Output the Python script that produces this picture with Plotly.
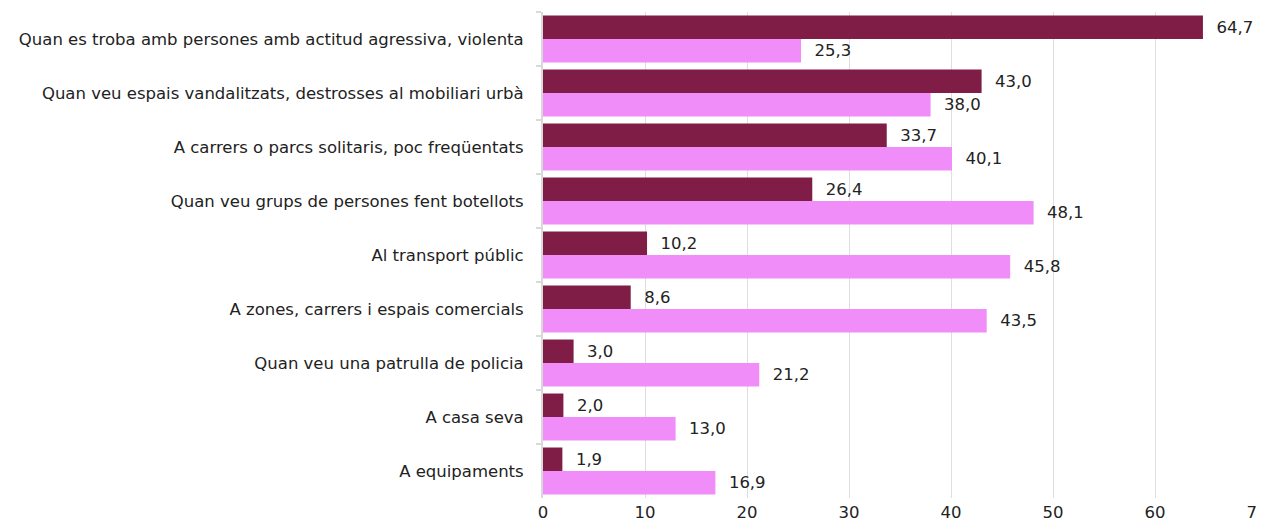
import plotly.graph_objects as go

categories = [
    "Quan es troba amb persones amb actitud agressiva, violenta",
    "Quan veu espais vandalitzats, destrosses al mobiliari urbà",
    "A carrers o parcs solitaris, poc freqüentats",
    "Quan veu grups de persones fent botellots",
    "Al transport públic",
    "A zones, carrers i espais comercials",
    "Quan veu una patrulla de policia",
    "A casa seva",
    "A equipaments",
]
serie_1 = [64.7, 43.0, 33.7, 26.4, 10.2, 8.6, 3.0, 2.0, 1.9]
serie_2 = [25.3, 38.0, 40.1, 48.1, 45.8, 43.5, 21.2, 13.0, 16.9]
x_ticks = [0, 10, 20, 30, 40, 50, 60, 70]

FONT = "DejaVu Sans"
FS = 16.5
fig = go.Figure()
for vals, color, name in [(serie_1, "#801D47", "Sèrie 1"), (serie_2, "#F18DF8", "Sèrie 2")]:
    fig.add_trace(go.Bar(
        y=categories, x=vals, orientation="h", name=name,
        marker=dict(color=color, line=dict(width=0)),
        texttemplate="  %{x:.1f}", textposition="outside",
        textfont=dict(family=FONT, size=FS, color="#222222"),
        cliponaxis=False,
    ))

fig.update_layout(
    width=1265, height=524,
    margin=dict(l=535, r=16, t=4, b=34, autoexpand=False),
    paper_bgcolor="white", plot_bgcolor="white",
    barmode="group", bargap=0.13, bargroupgap=0,
    showlegend=False,
    separators=",.",
    font=dict(family=FONT, size=FS, color="#222222"),
    xaxis=dict(range=[0, 70], tickvals=x_ticks, showgrid=True, gridcolor="#dedede",
               gridwidth=1, zeroline=False, showline=False, ticks="",
               ticklabeloverflow="allow", automargin=False, ticklabelstandoff=2,
               tickfont=dict(family=FONT, size=FS, color="#222222")),
    yaxis=dict(autorange="reversed", showline=True, linecolor="#d9d9d9", linewidth=2,
               ticks="outside", ticklen=5, tickcolor="#d9d9d9", tickwidth=2,
               tickson="boundaries", ticklabelstandoff=14, automargin=False,
               tickfont=dict(family=FONT, size=FS, color="#222222")),
)
fig.write_html("out.html")
